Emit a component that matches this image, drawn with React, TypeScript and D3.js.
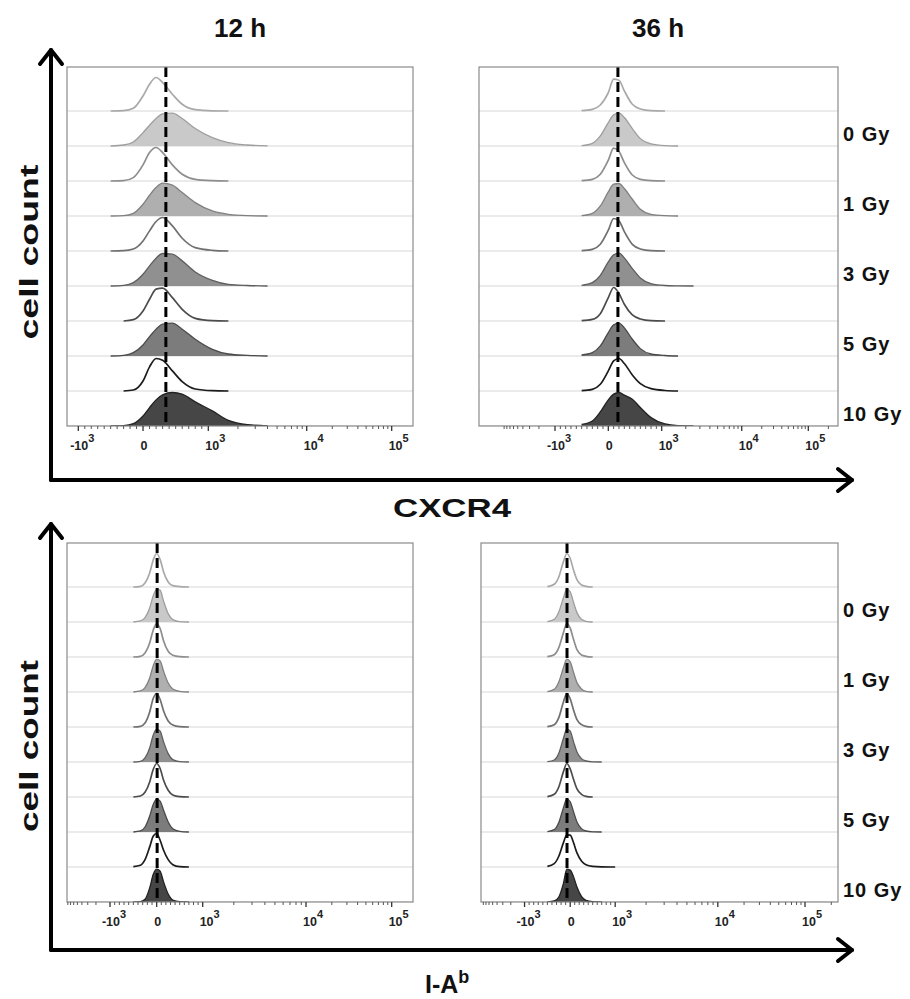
import React from 'react';
import * as d3 from 'd3';

// ---------------- data ----------------
const timeLabels = ['12 h', '36 h'];
const markerLabels = ['CXCR4', 'I-A'];
const doseLabels = ['0 Gy', '1 Gy', '3 Gy', '5 Gy', '10 Gy'];
const tickValues = [-1000, 0, 1000, 10000, 100000];
const tickBase = ['-10', '0', '10', '10', '10'];
const tickExp = ['3', '', '3', '4', '5'];
const minorTicks = [
  -9000, -8000, -7000, -6000, -5000, -4000, -3000, -2000,
  -900, -800, -700, -600, -500, -400, -300, -200, -100,
  100, 200, 300, 400, 500, 600, 700, 800, 900,
  2000, 3000, 4000, 5000, 6000, 7000, 8000, 9000,
  20000, 30000, 40000, 50000, 60000, 70000, 80000, 90000, 200000,
];

// fluorescence grid on which the histogram heights are read (fraction of mode)
const gridCXCR4 = [-500, -300, -150, 0, 100, 200, 300, 450, 600, 800, 1100, 1600, 2500, 4000];
const gridIAb = [-500, -350, -250, -150, -75, 0, 75, 150, 250, 350, 500, 700, 1000];

// rows from top to bottom: open (control) then filled (stained) for 0,1,3,5,10 Gy
const cxcr4_12h = [
  [0, 0.01, 0.08, 0.45, 0.8, 1.0, 0.85, 0.5, 0.2, 0.04, 0.005, 0, 0, 0],
  [0, 0.03, 0.12, 0.4, 0.62, 0.82, 0.96, 0.98, 0.82, 0.52, 0.25, 0.1, 0.03, 0.005],
  [0, 0.01, 0.1, 0.48, 0.85, 1.0, 0.85, 0.48, 0.2, 0.05, 0.01, 0, 0, 0],
  [0, 0.01, 0.08, 0.35, 0.62, 0.85, 0.98, 0.92, 0.7, 0.4, 0.15, 0.05, 0.01, 0],
  [0, 0.01, 0.06, 0.3, 0.6, 0.88, 1.0, 0.75, 0.38, 0.1, 0.02, 0, 0, 0],
  [0, 0.02, 0.1, 0.35, 0.6, 0.83, 0.97, 0.95, 0.75, 0.42, 0.17, 0.05, 0.015, 0],
  [0, 0, 0.04, 0.3, 0.65, 0.95, 0.98, 0.7, 0.35, 0.08, 0.01, 0, 0, 0],
  [0, 0.02, 0.1, 0.33, 0.58, 0.8, 0.95, 0.98, 0.8, 0.5, 0.2, 0.06, 0.02, 0],
  [0, 0, 0.03, 0.3, 0.72, 0.97, 0.92, 0.6, 0.28, 0.06, 0.01, 0, 0, 0],
  [0, 0.01, 0.07, 0.3, 0.55, 0.78, 0.93, 1.0, 0.95, 0.72, 0.45, 0.17, 0.04, 0.005],
];
const cxcr4_36h = [
  [0.01, 0.05, 0.18, 0.55, 0.95, 0.92, 0.6, 0.2, 0.06, 0.01, 0, 0, 0, 0],
  [0.01, 0.08, 0.3, 0.7, 0.93, 0.98, 0.85, 0.52, 0.22, 0.06, 0.01, 0, 0, 0],
  [0.01, 0.05, 0.2, 0.62, 0.98, 0.88, 0.55, 0.18, 0.05, 0.01, 0, 0, 0, 0],
  [0.01, 0.08, 0.3, 0.72, 0.95, 0.97, 0.82, 0.5, 0.2, 0.05, 0.01, 0, 0, 0],
  [0.01, 0.05, 0.2, 0.62, 0.97, 0.9, 0.58, 0.2, 0.06, 0.01, 0, 0, 0, 0],
  [0.02, 0.1, 0.32, 0.72, 0.93, 0.98, 0.84, 0.52, 0.24, 0.07, 0.015, 0.005, 0, 0],
  [0.01, 0.05, 0.22, 0.7, 1.0, 0.82, 0.5, 0.18, 0.06, 0.01, 0, 0, 0, 0],
  [0.03, 0.1, 0.3, 0.7, 0.93, 0.98, 0.84, 0.5, 0.22, 0.06, 0.015, 0, 0, 0],
  [0.01, 0.05, 0.2, 0.6, 0.9, 0.97, 0.82, 0.48, 0.22, 0.07, 0.015, 0, 0, 0],
  [0.05, 0.15, 0.42, 0.78, 0.95, 1.0, 0.92, 0.8, 0.55, 0.25, 0.06, 0.01, 0, 0],
];
const iab_12h = [
  [0, 0.02, 0.12, 0.42, 0.8, 1.0, 0.82, 0.45, 0.15, 0.04, 0.01, 0, 0],
  [0, 0.03, 0.13, 0.42, 0.78, 0.97, 0.95, 0.62, 0.25, 0.07, 0.01, 0, 0],
  [0, 0.02, 0.12, 0.42, 0.8, 1.0, 0.85, 0.48, 0.17, 0.05, 0.01, 0, 0],
  [0, 0.03, 0.13, 0.42, 0.78, 0.98, 0.93, 0.62, 0.27, 0.09, 0.02, 0, 0],
  [0, 0.02, 0.12, 0.45, 0.85, 1.0, 0.82, 0.48, 0.18, 0.06, 0.01, 0, 0],
  [0, 0.02, 0.12, 0.42, 0.8, 0.98, 0.92, 0.6, 0.25, 0.07, 0.01, 0, 0],
  [0, 0.03, 0.14, 0.45, 0.82, 1.0, 0.85, 0.5, 0.2, 0.06, 0.01, 0, 0],
  [0, 0.03, 0.15, 0.48, 0.82, 0.98, 0.92, 0.65, 0.3, 0.1, 0.02, 0, 0],
  [0.01, 0.05, 0.22, 0.6, 0.92, 1.0, 0.8, 0.5, 0.22, 0.07, 0.01, 0, 0],
  [0, 0.01, 0.08, 0.42, 0.82, 0.98, 0.92, 0.6, 0.24, 0.06, 0.01, 0, 0],
];
const iab_36h = [
  [0.01, 0.08, 0.3, 0.75, 1.0, 0.85, 0.5, 0.22, 0.06, 0.02, 0, 0, 0],
  [0.01, 0.08, 0.3, 0.72, 0.98, 0.9, 0.58, 0.28, 0.08, 0.02, 0, 0, 0],
  [0.01, 0.07, 0.28, 0.72, 1.0, 0.86, 0.52, 0.22, 0.06, 0.02, 0, 0, 0],
  [0.01, 0.08, 0.3, 0.72, 0.98, 0.9, 0.58, 0.28, 0.09, 0.02, 0, 0, 0],
  [0.01, 0.07, 0.28, 0.74, 1.0, 0.84, 0.5, 0.22, 0.07, 0.02, 0, 0, 0],
  [0.01, 0.06, 0.26, 0.7, 0.98, 0.92, 0.6, 0.3, 0.1, 0.03, 0.005, 0, 0],
  [0.01, 0.08, 0.3, 0.75, 1.0, 0.84, 0.52, 0.24, 0.08, 0.02, 0, 0, 0],
  [0.01, 0.07, 0.28, 0.72, 0.98, 0.9, 0.6, 0.3, 0.1, 0.03, 0.005, 0, 0],
  [0.02, 0.1, 0.32, 0.72, 0.96, 0.95, 0.72, 0.42, 0.18, 0.07, 0.02, 0.005, 0],
  [0, 0.03, 0.15, 0.55, 0.98, 0.95, 0.75, 0.45, 0.17, 0.05, 0.01, 0, 0],
];
// reference (dashed) line value per panel: 12h CXCR4, 36h CXCR4, 12h I-A, 36h I-A
const refValues = [350, 180, 10, -70];

// colours per dose (0,1,3,5,10 Gy)
const openStroke = ['#a9a9a9', '#8e8e8e', '#707070', '#4c4c4c', '#1c1c1c'];
const fillColor = ['#c9c9c9', '#afafaf', '#909090', '#7c7c7c', '#464646'];
const fillStroke = ['#9e9e9e', '#808080', '#5e5e5e', '#4a4a4a', '#222222'];

// ---------------- layout ----------------
const W = 910;
const H = 999;
const ROW = 35;
const PEAK = 33.5;

type PanelDef = {
  left: number; top: number; width: number; height: number;
  fr: number[]; grid: number[]; rows: number[][]; ref: number; labels: boolean;
};

const panels: PanelDef[] = [
  { left: 67, top: 67, width: 346, height: 359, fr: [0.0327, 0.2197, 0.4084, 0.6928, 0.9384], grid: gridCXCR4, rows: cxcr4_12h, ref: refValues[0], labels: false },
  { left: 479, top: 67, width: 359, height: 359, fr: [0.2117, 0.3602, 0.5089, 0.7318, 0.9173], grid: gridCXCR4, rows: cxcr4_36h, ref: refValues[1], labels: true },
  { left: 67, top: 543, width: 346, height: 359, fr: [0.1243, 0.2592, 0.3922, 0.6908, 0.9384], grid: gridIAb, rows: iab_12h, ref: refValues[2], labels: false },
  { left: 481, top: 543, width: 357, height: 359, fr: [0.122, 0.2499, 0.3759, 0.6633, 0.9076], grid: gridIAb, rows: iab_36h, ref: refValues[3], labels: true },
];

// biexponential-like display transform (linear within ±10^3, log above)
function display(v: number): number {
  const a = Math.abs(v);
  return a <= 1000 ? v / 1000 : Math.sign(v) * (1 + Math.log10(a / 1000));
}

const FONT = "'Liberation Sans', Arial, sans-serif";

// keep only the span of a histogram where counts are present (plus one empty neighbour)
function trimmed(grid: number[], vals: number[]): [number, number][] {
  let a = 0;
  let b = vals.length - 1;
  while (a < vals.length - 1 && vals[a + 1] === 0 && vals[a] === 0) a++;
  while (b > 0 && vals[b - 1] === 0 && vals[b] === 0) b--;
  const out: [number, number][] = [];
  for (let k = a; k <= b; k++) out.push([grid[k], vals[k]]);
  return out;
}

function Panel({ p, idx }: { p: PanelDef; idx: number }) {
  const xs = d3.scaleLinear().domain([-1, 0, 1, 2, 3]).range(p.fr.map((f) => p.left + f * p.width));
  const x = (v: number) => xs(display(v));
  const bottom = p.top + p.height;
  const clipId = `clip${idx}`;
  const inside = (v: number) => x(v) > p.left + 0.5 && x(v) < p.left + p.width - 0.5;

  const rowsEls = p.rows.map((vals, i) => {
    const base = bottom - (p.rows.length - 1 - i) * ROW;
    const y = d3.scaleLinear().domain([0, 1]).range([base, base - PEAK]);
    const pts = trimmed(p.grid, vals);
    const dose = Math.floor(i / 2);
    const filled = i % 2 === 1;
    const line = d3.line<[number, number]>().x((d) => x(d[0])).y((d) => y(d[1])).curve(d3.curveMonotoneX);
    if (filled) {
      const area = d3.area<[number, number]>().x((d) => x(d[0])).y0(base).y1((d) => y(d[1])).curve(d3.curveMonotoneX);
      return (
        <g key={i}>
          <path d={area(pts) || ''} fill={fillColor[dose]} stroke="none" />
          <path d={line(pts) || ''} fill="none" stroke={fillStroke[dose]} strokeWidth={1.3} />
        </g>
      );
    }
    return <path key={i} d={line(pts) || ''} fill="none" stroke={openStroke[dose]} strokeWidth={1.7} />;
  });

  const separators = p.rows.map((_, i) => {
    const base = bottom - (p.rows.length - 1 - i) * ROW;
    return <line key={i} x1={p.left} x2={p.left + p.width} y1={base} y2={base} stroke="#e4e4e4" strokeWidth={1.6} />;
  });

  const labels = p.labels
    ? doseLabels.map((lab, j) => {
        const base = bottom - (p.rows.length - 1 - (2 * j + 1)) * ROW;
        return (
          <text key={lab} x={p.left + p.width + 5} y={base - 5} fontFamily={FONT} fontWeight="bold" fontSize={20} letterSpacing={1} fill="#111">
            {lab}
          </text>
        );
      })
    : null;

  return (
    <g>
      <defs>
        <clipPath id={clipId}>
          <rect x={p.left} y={p.top} width={p.width} height={p.height} />
        </clipPath>
      </defs>
      <g clipPath={`url(#${clipId})`}>
        {separators}
        {rowsEls}
        <line x1={x(p.ref)} x2={x(p.ref)} y1={p.top} y2={bottom} stroke="#000" strokeWidth={3} strokeDasharray="10,5" />
      </g>
      <rect x={p.left} y={p.top} width={p.width} height={p.height} fill="none" stroke="#8a8a8a" strokeWidth={1.2} />
      {minorTicks.filter(inside).map((t) => (
        <line key={`m${t}`} x1={x(t)} x2={x(t)} y1={bottom} y2={bottom + 3} stroke="#555" strokeWidth={1} />
      ))}
      {tickValues.map((t) => (
        <line key={`M${t}`} x1={x(t)} x2={x(t)} y1={bottom} y2={bottom + 5} stroke="#333" strokeWidth={1.3} />
      ))}
      {tickValues.map((t, j) => {
        const isZero = t === 0;
        const dx = isZero ? 1 : t < 0 ? 4 : 7;
        return (
          <text key={`L${t}`} x={x(t) + dx} y={bottom + 24} textAnchor="middle" fontFamily={FONT} fontWeight="bold" fontSize={12.5} fill="#222">
            {tickBase[j]}
            {tickExp[j] ? (
              <tspan dy={-8} fontSize={11}>
                {tickExp[j]}
              </tspan>
            ) : null}
          </text>
        );
      })}
      {labels}
    </g>
  );
}

function Arrow({ x0, yTop, yBottom, xRight }: { x0: number; yTop: number; yBottom: number; xRight: number }) {
  return (
    <g stroke="#000" strokeWidth={4} fill="none" strokeLinecap="round" strokeLinejoin="round">
      <line x1={x0} y1={yBottom} x2={x0} y2={yTop} />
      <polyline points={`${x0 - 11},${yTop + 14} ${x0},${yTop} ${x0 + 11},${yTop + 14}`} />
      <line x1={x0} y1={yBottom} x2={xRight} y2={yBottom} />
      <polyline points={`${xRight - 14},${yBottom - 11} ${xRight},${yBottom} ${xRight - 14},${yBottom + 11}`} />
    </g>
  );
}

export default function App() {
  return (
    <svg
      width={W}
      height={H}
      viewBox={`0 0 ${W} ${H}`}
      style={{ display: 'block', position: 'absolute', left: 0, top: 0, background: '#fff' }}
    >
      <rect width={W} height={H} fill="#fff" />
      <text x={240} y={37} textAnchor="middle" fontFamily={FONT} fontWeight="bold" fontSize={26} fill="#111">{timeLabels[0]}</text>
      <text x={658} y={37} textAnchor="middle" fontFamily={FONT} fontWeight="bold" fontSize={26} fill="#111">{timeLabels[1]}</text>

      <Arrow x0={51} yTop={50} yBottom={480} xRight={852} />
      <Arrow x0={51} yTop={524} yBottom={950} xRight={852} />

      <text transform="translate(38,252) rotate(-90)" textAnchor="middle" fontFamily={FONT} fontWeight="bold" fontSize={26} fill="#111" textLength={175} lengthAdjust="spacingAndGlyphs">cell count</text>
      <text transform="translate(38,746) rotate(-90)" textAnchor="middle" fontFamily={FONT} fontWeight="bold" fontSize={26} fill="#111" textLength={172} lengthAdjust="spacingAndGlyphs">cell count</text>

      <text x={452} y={517} textAnchor="middle" fontFamily={FONT} fontWeight="bold" fontSize={25} fill="#111" textLength={118} lengthAdjust="spacingAndGlyphs">{markerLabels[0]}</text>
      <text x={425} y={993} fontFamily={FONT} fontWeight="bold" fontSize={25} fill="#111">
        {markerLabels[1]}
        <tspan dy={-10} fontSize={18}>b</tspan>
      </text>

      {panels.map((p, i) => (
        <Panel key={i} p={p} idx={i} />
      ))}
    </svg>
  );
}
